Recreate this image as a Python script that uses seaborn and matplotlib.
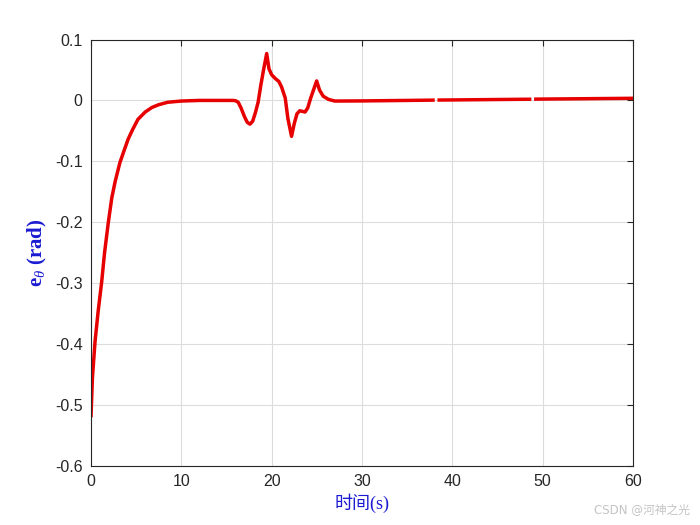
import matplotlib
matplotlib.use("Agg")
import matplotlib.pyplot as plt
import seaborn as sns
import pandas as pd

# ---- data ----
t_seg1 = [0, 0.15, 0.44, 0.8, 1.18, 1.5, 1.92, 2.3, 2.66, 3.2, 3.6, 4.1, 4.6, 5.2,
          5.6, 6.0, 6.4, 6.75, 7.5, 8.5, 10, 12, 14, 15.7, 16.0, 16.3, 16.6, 17.0,
          17.3, 17.6, 17.9, 18.2, 18.5, 18.8, 19.1, 19.45, 19.7, 20.0, 20.4, 20.8,
          21.1, 21.5, 21.8, 22.2, 22.5, 22.8, 23.1, 23.4, 23.7, 24.0, 24.3, 24.98,
          25.3, 25.7, 26.3, 27.0, 30, 38.05]
e_seg1 = [-0.52, -0.457, -0.397, -0.345, -0.298, -0.25, -0.2, -0.16, -0.134,
          -0.102, -0.085, -0.064, -0.048, -0.031, -0.025, -0.019, -0.015, -0.0115,
          -0.007, -0.003, -0.001, 0.0, 0.0, 0.0, -0.0005, -0.003, -0.012, -0.027,
          -0.036, -0.039, -0.034, -0.02, -0.003, 0.025, 0.05, 0.077, 0.052, 0.042,
          0.036, 0.031, 0.022, 0.004, -0.03, -0.059, -0.038, -0.022, -0.017,
          -0.018, -0.019, -0.012, 0.003, 0.032, 0.017, 0.007, 0.0016, -0.001,
          -0.0008, 0.0005]
t_seg2 = [38.35, 48.75]
e_seg2 = [0.0006, 0.002]
t_seg3 = [49.05, 60]
e_seg3 = [0.0021, 0.0035]

x_ticks = [0, 10, 20, 30, 40, 50, 60]
y_ticks = [-0.6, -0.5, -0.4, -0.3, -0.2, -0.1, 0, 0.1]
y_tick_labels = ["-0.6", "-0.5", "-0.4", "-0.3", "-0.2", "-0.1", "0", "0.1"]

df = pd.concat([
    pd.DataFrame({"t": t_seg1, "e": e_seg1, "seg": 1}),
    pd.DataFrame({"t": t_seg2, "e": e_seg2, "seg": 2}),
    pd.DataFrame({"t": t_seg3, "e": e_seg3, "seg": 3}),
])

sns.set_style("white")
plt.rcParams["font.family"] = ["Liberation Sans", "DejaVu Sans"]
plt.rcParams["mathtext.fontset"] = "custom"
plt.rcParams["mathtext.rm"] = "Liberation Serif"
plt.rcParams["mathtext.it"] = "Liberation Serif:italic"
plt.rcParams["mathtext.bf"] = "Liberation Serif:bold"

fig = plt.figure(figsize=(7, 5.25), dpi=100)
ax = fig.add_axes([91 / 700, 1 - 466 / 525, (633 - 91) / 700, (466 - 39.5) / 525])

sns.lineplot(data=df, x="t", y="e", units="seg", estimator=None, sort=False,
             color="#e60000", linewidth=2.5, ax=ax, legend=False,
             solid_capstyle="butt", solid_joinstyle="round")

ax.set_xlim(0, 60)
ax.set_ylim(-0.6, 0.1)
ax.set_xticks(x_ticks)
ax.set_xticklabels([str(v) for v in x_ticks])
ax.set_yticks(y_ticks)
ax.set_yticklabels(y_tick_labels)
ax.grid(True, color="#dcdcdc", linewidth=0.8)
ax.set_axisbelow(True)
for s in ax.spines.values():
    s.set_color("#262626")
    s.set_linewidth(0.8)
ax.tick_params(direction="in", top=True, right=True, length=4, width=0.8,
               labelsize=11.5, colors="#262626", pad=6)

ax.set_xlabel("时间(s)", family=["Liberation Serif", "Noto Sans CJK SC"],
              fontsize=13, color="#1a1ad2", labelpad=3)
ax.set_ylabel(r"$\mathbf{e}_{\mathit{\theta}}$ (rad)", family="Liberation Serif",
              fontweight="bold", fontsize=15, color="#1a1ad2", labelpad=4)

fig.text(0.985, 0.015, "CSDN @河神之光", ha="right", va="bottom", fontsize=8.5,
         color="#c4c4c4", family=["DejaVu Sans", "Noto Sans CJK SC"])

fig.savefig("out.png", dpi=100)
